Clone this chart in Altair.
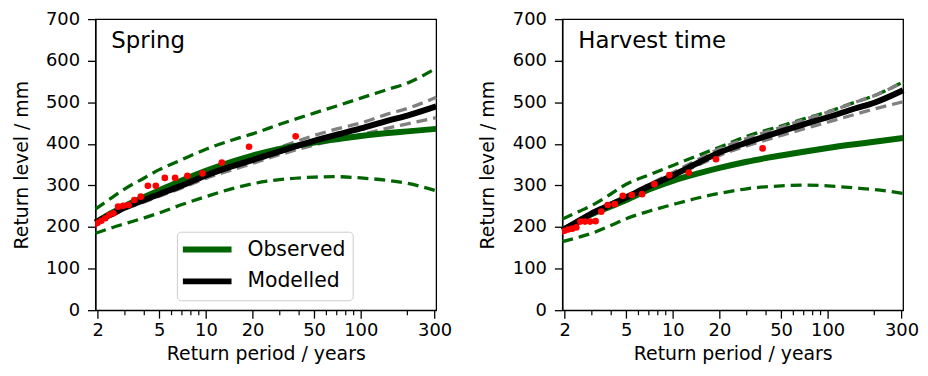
import altair as alt
import pandas as pd

# ---------------- data ----------------
periods = [1.935, 2.5, 3, 4, 5, 7, 10, 15, 20, 30, 50, 70, 100, 150, 200, 307]

spring_obs    = [211, 235, 251, 272, 288, 312, 335, 358, 372, 388, 403, 411, 419, 426, 430, 436]
spring_obs_hi = [243, 272, 292, 318, 338, 362, 387, 410, 424, 447, 474, 491, 510, 531, 546, 582]
spring_obs_lo = [185, 199, 208, 222, 234, 254, 273, 293, 304, 314, 320, 321, 318, 312, 305, 287]
spring_mod    = [211, 232, 247, 265, 279, 300, 324, 347, 361, 382, 407, 422, 437, 456, 468, 490]
spring_mod_hi = [214, 236, 251, 270, 285, 308, 333, 356, 370, 392, 420, 436, 450, 472, 485, 512]
spring_mod_lo = [208, 228, 243, 260, 274, 294, 317, 338, 353, 374, 397, 410, 422, 438, 448, 463]

harvest_obs    = [192, 215, 231, 250, 265, 290, 311, 330, 342, 357, 372, 381, 390, 399, 405, 414]
harvest_obs_hi = [219, 238, 252, 280, 303, 325, 348, 374, 392, 418, 443, 460, 477, 500, 516, 549]
harvest_obs_lo = [165, 176, 185, 204, 220, 238, 254, 271, 281, 292, 299, 301, 299, 294, 290, 281]
harvest_mod    = [192, 216, 233, 254, 271, 298, 324, 357, 379, 403, 430, 447, 464, 485, 499, 529]
harvest_mod_hi = [196, 219, 236, 258, 275, 302, 331, 365, 388, 413, 440, 458, 476, 500, 516, 548]
harvest_mod_lo = [189, 211, 228, 249, 265, 292, 320, 351, 372, 395, 420, 436, 452, 471, 484, 501]

point_periods  = [38.0, 19.0, 12.67, 9.5, 7.6, 6.33, 5.43, 4.75, 4.22, 3.8,
                  3.45, 3.17, 2.92, 2.71, 2.53, 2.38, 2.24, 2.11, 2.0, 1.9]
spring_points  = [418, 393, 355, 329, 323, 318, 318, 299, 299, 273,
                  265, 253, 251, 249, 233, 229, 221, 215, 210, 205]
harvest_points = [389, 363, 331, 325, 303, 279, 277, 275, 255, 253,
                  237, 214, 213, 213, 213, 199, 196, 194, 191, 188]

major_ticks = [2, 5, 10, 20, 50, 100, 300]
minor_ticks = [3, 4, 6, 7, 8, 9, 30, 40, 60, 70, 80, 90, 200]
y_ticks = [0, 100, 200, 300, 400, 500, 600, 700]
x_domain = [1.935, 307]
y_domain = [0, 700]
series_names = ["Observed", "Modelled"]

GREEN = "#006400"
GREY = "#808080"
FONT = "DejaVu Sans"
W, H = 343, 293

xenc = alt.X("T:Q",
             scale=alt.Scale(type="log", domain=x_domain, nice=False),
             axis=alt.Axis(values=major_ticks, format="d", title="Return period / years",
                           labelPadding=3, titlePadding=6, labelFlush=False))
yenc = alt.Y("v:Q",
             scale=alt.Scale(domain=y_domain, nice=False),
             axis=alt.Axis(values=y_ticks, title="Return level / mm",
                           labelPadding=8, titlePadding=14.5))


def panel(title, obs, obs_hi, obs_lo, mod, mod_hi, mod_lo, pts, show_legend):
    def long(d):
        rows = []
        for name, vals in d.items():
            for t, v in zip(periods, vals):
                rows.append({"T": t, "v": v, "s": name})
        return pd.DataFrame(rows)

    green_band = long({"hi": obs_hi, "lo": obs_lo})
    grey_band = long({"hi": mod_hi, "lo": mod_lo})
    main = long({"Observed": obs, "Modelled": mod})
    points = pd.DataFrame({"T": point_periods, "v": pts})
    minor = pd.DataFrame({"T": minor_ticks})
    ttl = pd.DataFrame({"t": [title]})

    if show_legend:
        legend = alt.Legend(orient="none", legendX=82, legendY=214, title=None,
                            symbolType="M-1.5,0H4.625", symbolSize=256, symbolStrokeWidth=6,
                            labelFontSize=20.5, labelFont=FONT, labelColor="black",
                            labelOffset=42, padding=7, rowPadding=8,
                            strokeColor="#cccccc", cornerRadius=4, fillColor="white")
    else:
        legend = None

    l_green = alt.Chart(green_band).mark_line(
        color=GREEN, strokeWidth=3.3, strokeDash=[11, 6], interpolate="monotone"
    ).encode(x=xenc, y=yenc, detail="s:N")
    l_grey = alt.Chart(grey_band).mark_line(
        color=GREY, strokeWidth=3.3, strokeDash=[11, 6], interpolate="monotone"
    ).encode(x=xenc, y=yenc, detail="s:N")
    l_main = alt.Chart(main).mark_line(strokeWidth=6, interpolate="monotone").encode(
        x=xenc, y=yenc,
        color=alt.Color("s:N", scale=alt.Scale(domain=series_names, range=[GREEN, "black"]),
                        legend=legend),
        order=alt.Order("s:N", sort="descending"),
    )
    l_pts = alt.Chart(points).mark_circle(color="red", size=45, opacity=1, clip=True).encode(
        x=xenc, y=yenc)
    l_minor = alt.Chart(minor).mark_rule(color="black", strokeWidth=1.2).encode(
        x=xenc, y=alt.value(H), y2=alt.value(H + 5))
    l_title = alt.Chart(ttl).mark_text(
        align="left", baseline="alphabetic", fontSize=23, font=FONT, color="black"
    ).encode(text="t:N", x=alt.value(16), y=alt.value(29))

    return alt.layer(l_green, l_grey, l_main, l_pts, l_minor, l_title).properties(
        width=W, height=H)


left = panel("Spring", spring_obs, spring_obs_hi, spring_obs_lo,
             spring_mod, spring_mod_hi, spring_mod_lo, spring_points, True)
right = panel("Harvest time", harvest_obs, harvest_obs_hi, harvest_obs_lo,
              harvest_mod, harvest_mod_hi, harvest_mod_lo, harvest_points, False)

chart = alt.hconcat(left, right, spacing=127, bounds="flush").resolve_scale(
    color="independent").resolve_legend(color="independent").configure_view(
    stroke="black", strokeWidth=1.3
).configure_axis(
    domainColor="black", domainWidth=1.3, tickColor="black", tickWidth=1.3, tickSize=8,
    labelFont=FONT, labelFontSize=18, labelColor="black",
    titleFont=FONT, titleFontSize=19, titleFontWeight="normal", titleColor="black",
    grid=False
).properties(padding={"left": 3, "top": 0, "right": 0, "bottom": 0})

chart.save("out.html", embed_options={"renderer": "svg", "actions": False})
